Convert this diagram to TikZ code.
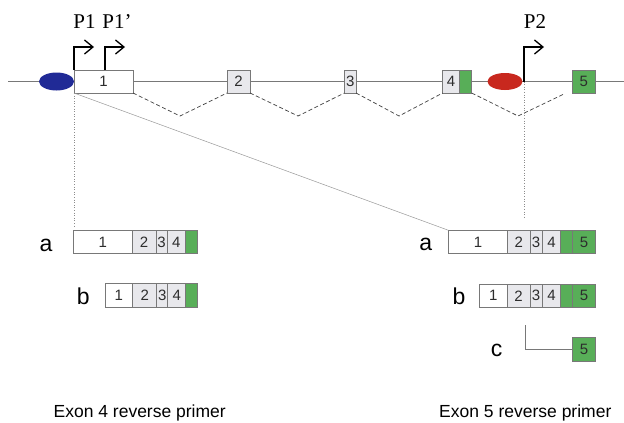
\documentclass[tikz,border=0pt]{standalone}
\usepackage{fontspec}
\setmainfont{Liberation Sans}
\newfontfamily\serifP{Liberation Serif}
\usetikzlibrary{arrows.meta,shapes.geometric}
\definecolor{exgray}{RGB}{232,232,236}
\definecolor{exgreen}{RGB}{88,174,88}
\definecolor{bord}{RGB}{120,120,120}
\definecolor{blueov}{RGB}{32,42,150}
\definecolor{redov}{RGB}{200,40,30}
\definecolor{numc}{RGB}{45,45,45}
\begin{document}
\begin{tikzpicture}[x=1pt,y=-1pt,
  exon/.style={draw=bord,line width=0.9pt,inner sep=0pt,outer sep=0pt,minimum height=23pt,font=\fontsize{15}{15}\selectfont,text=numc},
  seg/.style={exon,anchor=west,minimum height=23.5pt},
  wex/.style={fill=white},
  gex/.style={fill=exgray},
  grex/.style={fill=exgreen},
  intron/.style={draw=black!75,dashed,line width=0.7pt,dash pattern=on 4pt off 2.5pt},
  prom/.style={draw=black,line width=1.3pt,-{Straight Barb[length=8.5pt,width=14pt,line width=1.3pt]}},
  guide/.style={draw=black!45,line width=0.6pt,dotted},
  lbl/.style={font=\fontsize{23}{23}\selectfont,anchor=base,inner sep=0pt},
  ptxt/.style={font=\serifP\fontsize{21}{21}\selectfont,inner sep=0pt},
  btxt/.style={font=\fontsize{17.5}{17.5}\selectfont,anchor=base,inner sep=0pt}]
\useasboundingbox (0,0) rectangle (624,423);
\fill[white] (0,0) rectangle (624,423);
% main line
\coordinate (L) at (8,81.5);
\coordinate (R) at (624,81.5);
\draw[bord,line width=0.9pt] (L) -- (R);
% ovals
\node[ellipse,fill=blueov,minimum width=35pt,minimum height=18pt,inner sep=0pt] (blue) at (56.5,81.5) {};
\node[ellipse,fill=redov,minimum width=35pt,minimum height=17pt,inner sep=0pt] (red) at (505,81.5) {};
% exons
\node[exon,wex,minimum width=59pt] (e1) at (103.5,81.5) {1};
\node[exon,gex,minimum width=23pt] (e2) at (238.5,81.5) {2};
\node[exon,gex,minimum width=11.7pt] (e3) at (350.2,81.5) {3};
\node[exon,gex,minimum width=16.6pt] (e4) at (451,81.5) {4};
\node[exon,grex,minimum width=12.4pt] (e4g) at (465.5,81.5) {};
\node[exon,grex,minimum width=23.7pt] (e5) at (583.85,81.5) {5};
% introns
\coordinate (v1) at (180,116);
\coordinate (v2) at (298,116);
\coordinate (v3) at (399,116);
\coordinate (v4) at (518,116);
\coordinate (v5) at (564,94);
\draw[intron] (e1.south east) -- (v1) -- (e2.south west);
\draw[intron] (e2.south east) -- (v2) -- (e3.south west);
\draw[intron] (e3.south east) -- (v3) -- (e4.south west);
\draw[intron] (e4g.south east) -- (v4) -- (v5);
% promoters
\coordinate (p1a) at (74,47); \coordinate (p1b) at (94,47);
\coordinate (p1s) at (105,70); \coordinate (p1c) at (105,47); \coordinate (p1d) at (125,47);
\coordinate (p2s) at (524,81.5); \coordinate (p2a) at (524,47); \coordinate (p2b) at (544,47);
\draw[prom] (e1.north west) -- (p1a) -- (p1b);
\draw[prom] (p1s) -- (p1c) -- (p1d);
\draw[prom] (p2s) -- (p2a) -- (p2b);
\node[ptxt] (tp1) at (84.5,21.5) {P1};
\node[ptxt] (tp1p) at (117,21.5) {P1’};
\node[ptxt] (tp2) at (535,21.5) {P2};
% left a
\node[seg,wex,minimum width=59pt] (la1) at (73.3,242) {1};
\node[seg,gex,minimum width=23.7pt] (la2) at (la1.east) {2};
\node[seg,gex,minimum width=11.3pt] (la3) at (la2.east) {3};
\node[seg,gex,minimum width=18pt] (la4) at (la3.east) {4};
\node[seg,grex,minimum width=12.4pt] (la5) at (la4.east) {};
% left b
\node[seg,wex,minimum width=27.7pt] (lb1) at (105,295.5) {1};
\node[seg,gex,minimum width=24pt] (lb2) at (lb1.east) {2};
\node[seg,gex,minimum width=11pt] (lb3) at (lb2.east) {3};
\node[seg,gex,minimum width=18pt] (lb4) at (lb3.east) {4};
\node[seg,grex,minimum width=12pt] (lb5) at (lb4.east) {};
% right a
\node[seg,wex,minimum width=59.4pt] (ra1) at (448.3,242) {1};
\node[seg,gex,minimum width=22.3pt] (ra2) at (ra1.east) {2};
\node[seg,gex,minimum width=12.3pt] (ra3) at (ra2.east) {3};
\node[seg,gex,minimum width=18.4pt] (ra4) at (ra3.east) {4};
\node[seg,grex,minimum width=11.6pt] (ra5) at (ra4.east) {};
\node[seg,grex,minimum width=23.4pt] (ra6) at (ra5.east) {5};
% right b
\node[seg,wex,minimum width=28pt] (rb1) at (479.3,295.8) {1};
\node[seg,gex,minimum width=22.7pt] (rb2) at (rb1.east) {2};
\node[seg,gex,minimum width=12.3pt] (rb3) at (rb2.east) {3};
\node[seg,gex,minimum width=18.4pt] (rb4) at (rb3.east) {4};
\node[seg,grex,minimum width=11.6pt] (rb5) at (rb4.east) {};
\node[seg,grex,minimum width=23.4pt] (rb6) at (rb5.east) {5};
% right c
\node[seg,grex,minimum width=23.4pt,minimum height=24pt] (rc) at (572.3,349.5) {5};
\coordinate (c1) at (525,325);
\coordinate (c2) at (525,349.5);
\draw[bord,line width=0.7pt] (c1) -- (c2) -- (rc.west);
% guides
\coordinate (g1) at (74,227);
\draw[guide] (e1.south west) -- (g1);
\draw[black!40,line width=0.5pt] (e1.south west) -- (ra1.north west);
\coordinate (g2) at (524,218);
\draw[guide] (p2s) -- (g2);
% labels
\node[lbl] (la) at (46,251.5) {a};
\node[lbl] (lb) at (83.3,304) {b};
\node[lbl] (ra) at (425.8,250.7) {a};
\node[lbl] (rb) at (459,304.3) {b};
\node[lbl] (rcl) at (496.7,356.7) {c};
\node[btxt] (t4) at (139.7,417.3) {Exon 4 reverse primer};
\node[btxt] (t5) at (525.3,417.3) {Exon 5 reverse primer};
\end{tikzpicture}
\end{document}
